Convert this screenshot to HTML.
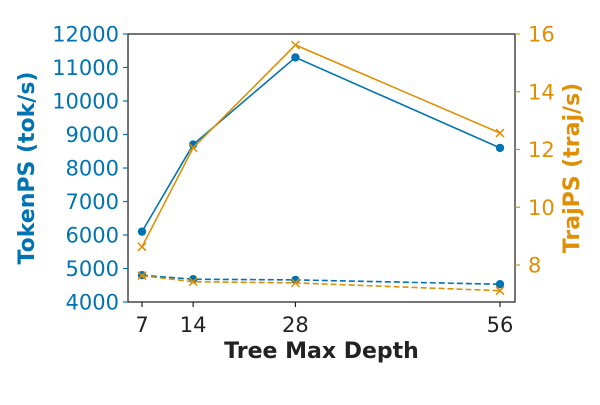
<!DOCTYPE html>
<html><head><meta charset="utf-8"><style>
body{margin:0;background:#fff;}
svg text{font-family:"DejaVu Sans","Liberation Sans",sans-serif;}
</style></head><body>
<svg id="chart" width="600" height="400" viewBox="0 0 600 400" xmlns="http://www.w3.org/2000/svg"></svg>
<script>
const depths=[7,14,28,56];
const tokenSolid=[6100,8700,11300,8600];
const tokenDashed=[4800,4680,4660,4530];
const trajSolid=[8.63,12.06,15.62,12.57];
const trajDashed=[7.63,7.42,7.38,7.11];
const leftTicks=[4000,5000,6000,7000,8000,9000,10000,11000,12000];
const rightTicks=[8,10,12,14,16];
const xTicks=[7,14,28,56];
const L=128,R=515,T=34,B=302;
const BLUE='#0173b2',ORANGE='#de8f05';
const xs=v=>142+(v-7)*(500-142)/49;
const yl=v=>B-(v-4000)*(B-T)/8000;
const yr=v=>T+(16-v)*(265-T)/8;
const svg=document.getElementById('chart');
const NS='http://www.w3.org/2000/svg';
function mk(tag,attrs,name,parent){const e=document.createElementNS(NS,tag);for(const k in attrs)e.setAttribute(k,attrs[k]);


(parent||svg).appendChild(e);return e;}
function txt(x,y,s,attrs,name){const e=mk('text',Object.assign({x:x,y:y},attrs),name);e.textContent=s;return e;}
mk('rect',{x:L,y:T,width:R-L,height:B-T,fill:'none',stroke:'#222','stroke-width':1.25},'plot-frame');
leftTicks.forEach(v=>{const y=yl(v);
mk('line',{x1:L-5,x2:L,y1:y,y2:y,stroke:BLUE,'stroke-width':1.2},'left-tick');
txt(L-9,y+7.5,v,{'text-anchor':'end','font-size':21,fill:BLUE},'left-tick-label');});
rightTicks.forEach(v=>{const y=yr(v);
mk('line',{x1:R,x2:R+5,y1:y,y2:y,stroke:ORANGE,'stroke-width':1.2},'right-tick');
txt(R+13,y+7.5,v,{'text-anchor':'start','font-size':21,fill:ORANGE},'right-tick-label');});
xTicks.forEach(v=>{const x=xs(v);
mk('line',{x1:x,x2:x,y1:B,y2:B+5,stroke:'#222','stroke-width':1.2},'x-tick');
txt(x,B+30,v,{'text-anchor':'middle','font-size':21,fill:'#222'},'x-tick-label');});
txt((L+R)/2,358,'Tree Max Depth',{'text-anchor':'middle','font-size':22,'font-weight':'bold',fill:'#222'},'x-axis-title');
txt(0,0,'TokenPS (tok/s)',{'text-anchor':'middle','font-size':22,'font-weight':'bold',fill:BLUE,transform:`translate(34,${(T+B)/2}) rotate(-90)`},'left-axis-title');
txt(0,0,'TrajPS (traj/s)',{'text-anchor':'middle','font-size':22,'font-weight':'bold',fill:ORANGE,transform:`translate(579,${(T+B)/2}) rotate(-90)`},'right-axis-title');
function series(vals,yf,color,dash,marker,name){
const pts=vals.map((v,i)=>[xs(depths[i]),yf(v)]);
mk('polyline',{points:pts.map(p=>p.join(',')).join(' '),fill:'none',stroke:color,'stroke-width':1.6,'stroke-dasharray':dash?'6,3':'none'},name+'-line');
pts.forEach(p=>{
if(marker==='o')mk('circle',{cx:p[0],cy:p[1],r:4.2,fill:color},name+'-point');
else mk('path',{d:`M${p[0]-4},${p[1]-4}L${p[0]+4},${p[1]+4}M${p[0]-4},${p[1]+4}L${p[0]+4},${p[1]-4}`,stroke:color,'stroke-width':1.5},name+'-point');});}
series(tokenSolid,yl,BLUE,false,'o','token-solid');
series(tokenDashed,yl,BLUE,true,'o','token-dashed');
series(trajSolid,yr,ORANGE,false,'x','traj-solid');
series(trajDashed,yr,ORANGE,true,'x','traj-dashed');
</script>
</body></html>
